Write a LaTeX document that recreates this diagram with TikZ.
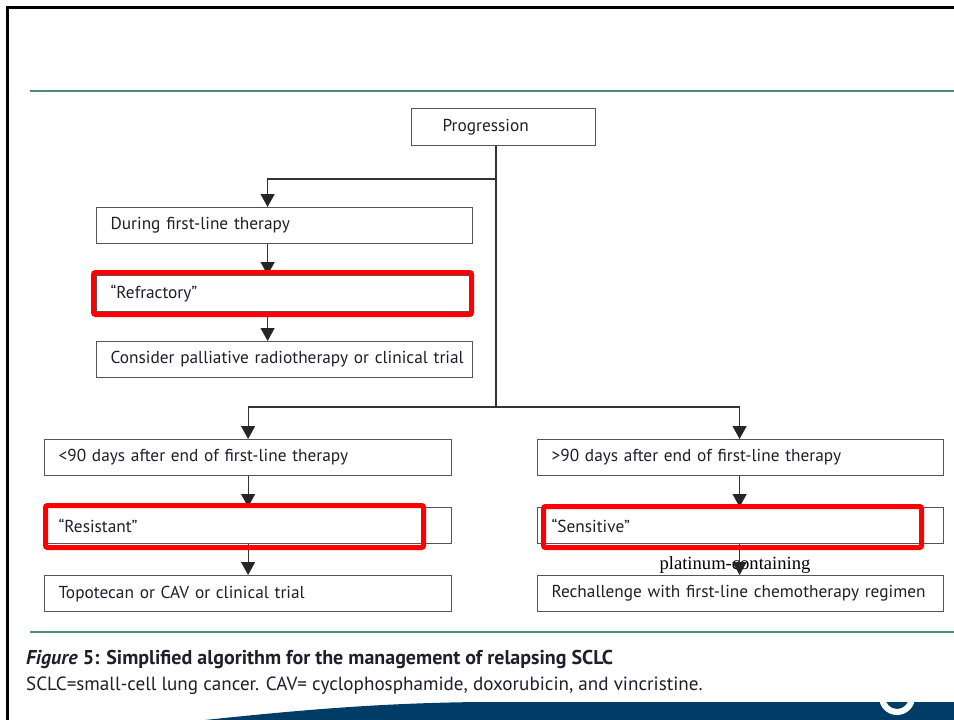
\documentclass[tikz,border=0pt]{standalone}
\usepackage{fontspec}
\setmainfont{PT Sans}
\newfontfamily\serifx{Liberation Serif}
\usetikzlibrary{arrows.meta,calc}
\definecolor{boxgray}{RGB}{85,85,85}
\definecolor{txt}{RGB}{30,30,45}
\definecolor{rulegreen}{RGB}{80,140,115}
\definecolor{navy}{RGB}{0,61,102}
\begin{document}
\begin{tikzpicture}[x=1pt,y=-1pt,
  box/.style={draw=boxgray, line width=1.2pt, anchor=north west, minimum height=36pt,
    inner xsep=14pt, inner ysep=0pt, align=left, text width=#1,
    font=\fontsize{17.3}{19}\selectfont, text=txt},
  redbox/.style={draw=red, line width=5pt, rounded corners=2pt},
  link/.style={draw=boxgray!60!black, line width=1.2pt},
  arr/.style={link, -{Triangle[width=14pt,length=13pt,color=black!85]}},
]
\useasboundingbox (0,0) rectangle (954,720);
% frame and rules
\draw[line width=2.5pt] (7.5,720) -- (7.5,7.5) -- (954,7.5);
\draw[rulegreen, line width=1.5pt] (30,91) -- (954,91);
\draw[rulegreen, line width=1.5pt] (30,632) -- (954,632);

% boxes
\node[box=122pt, inner xsep=31pt, minimum height=37pt] (prog) at (411,108) {Progression};
\node[box=348pt] (during) at (96,207) {During first-line therapy};
\node[box=348pt] (refr) at (96,275) {“Refractory”};
\node[box=348pt] (cons) at (96,341) {\mbox{Consider palliative radiotherapy or clinical trial}};
\node[box=379pt] (lt) at (44,439) {<90 days after end of first-line therapy};
\node[box=379pt] (res) at (44,507) {“Resistant”};
\node[box=379pt] (topo) at (44,575) {Topotecan or CAV or clinical trial};
\node[box=378pt] (gt) at (537,439) {>90 days after end of first-line therapy};
\node[box=378pt] (sens) at (537,507) {“Sensitive”};
\node[box=378pt] (rech) at (537,575) {\mbox{Rechallenge with first-line chemotherapy regimen}};

% connectors
\coordinate (jtop) at (496,179);
\coordinate (jbot) at (496,407);
\draw[link] (prog.south -| jtop) -- (jbot);
\draw[arr] (jtop) -| ([xshift=-17pt]during.north);
\draw[arr] ([xshift=-17pt]during.south) -- ([xshift=-17pt]refr.north);
\draw[arr] ([xshift=-17pt]refr.south) -- ([xshift=-17pt]cons.north);
\draw[arr] (jbot) -| (lt.north);
\draw[arr] (jbot) -| ([xshift=-1pt]gt.north);
\draw[arr] (lt.south) -- (res.north);
\draw[arr] (res.south) -- (topo.north);
\draw[arr] ([xshift=-1pt]gt.south) -- ([xshift=-1pt]sens.north);
\node[font=\serifx\fontsize{18.6}{20}\selectfont, text=black, inner sep=0pt, anchor=base] (plat) at (735,569) {platinum-containing};
\draw[arr] ([xshift=-1pt]sens.south) -- ([xshift=-1pt]rech.north);

% red highlights
\draw[redbox] (93.5,272.5) rectangle (471.5,314.5);
\draw[redbox] (45.5,505.5) rectangle (423.5,547.5);
\draw[redbox] (543.5,506.5) rectangle (921.5,547.5);

% caption
\node[anchor=base west, inner sep=0pt, text=txt, font=\bfseries\fontsize{20}{22}\selectfont] (cap1) at (26,664)
  {\textit{Figure} 5: Simplified algorithm for the management of relapsing SCLC};
\node[anchor=base west, inner sep=0pt, text=txt, font=\fontsize{19.1}{21}\selectfont] (cap2) at (26,690)
  {SCLC=small-cell lung cancer. CAV= cyclophosphamide, doxorubicin, and vincristine.};

% bottom band
\fill[navy] (205,720) .. controls (300,710) and (380,703) .. (480,702) -- (954,702) -- (954,720) -- cycle;
\fill[white, even odd rule] (897,697) circle[radius=18] (897,697) circle[radius=12];
\end{tikzpicture}
\end{document}
